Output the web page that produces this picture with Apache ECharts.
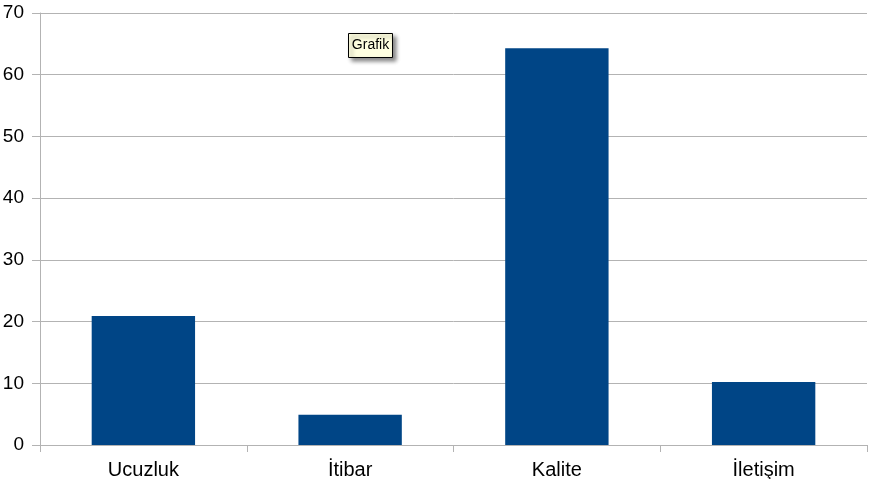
<!DOCTYPE html>
<html><head><meta charset="utf-8">
<script src="https://cdn.jsdelivr.net/npm/echarts@6/dist/echarts.min.js"></script>
<style>html,body{margin:0;padding:0;background:#fff}#c{width:873px;height:479px}</style>
</head><body><div id="c"></div>
<script>
const categories = ['Ucuzluk', 'İtibar', 'Kalite', 'İletişim'];
const values = [20.9, 4.9, 64.3, 10.2];
const titleText = 'Grafik';

const chart = echarts.init(document.getElementById('c'), null, {renderer: 'canvas'});
chart.setOption({
  animation: false,
  backgroundColor: '#ffffff',
  grid: {left: 40, right: 6, top: 13, bottom: 34, containLabel: false, outerBoundsMode: 'none'},
  xAxis: {
    type: 'category', data: categories,
    axisLine: {show: true, lineStyle: {color: '#b3b3b3', width: 1}},
    axisTick: {show: true, length: 7, lineStyle: {color: '#b3b3b3'}},
    axisLabel: {color: '#000', fontFamily: 'Liberation Sans', fontSize: 20, margin: 15}
  },
  yAxis: {
    type: 'value', min: 0, max: 70, interval: 10,
    axisLine: {show: true, lineStyle: {color: '#b3b3b3', width: 1}},
    axisTick: {show: true, length: 8, lineStyle: {color: '#b3b3b3'}},
    splitLine: {show: true, lineStyle: {color: '#b3b3b3', width: 1}},
    axisLabel: {color: '#000', fontFamily: 'Liberation Sans', fontSize: 19, margin: 16}
  },
  series: [{
    type: 'bar', data: values, barWidth: '50%',
    itemStyle: {color: '#004586'}
  }],
  graphic: [{
    type: 'group', left: 348, top: 33,
    children: [
      {type: 'rect', shape: {x: 0, y: 0, width: 44, height: 24},
       style: {fill: '#ffffe1', stroke: '#000', lineWidth: 1, shadowBlur: 4, shadowOffsetX: 3, shadowOffsetY: 3, shadowColor: 'rgba(0,0,0,0.45)'}},
      {type: 'text', x: 22, y: 12,
       style: {text: titleText, fill: '#000', font: '14px "Liberation Sans"', align: 'center', verticalAlign: 'middle'}}
    ]
  }]
});
</script></body></html>
